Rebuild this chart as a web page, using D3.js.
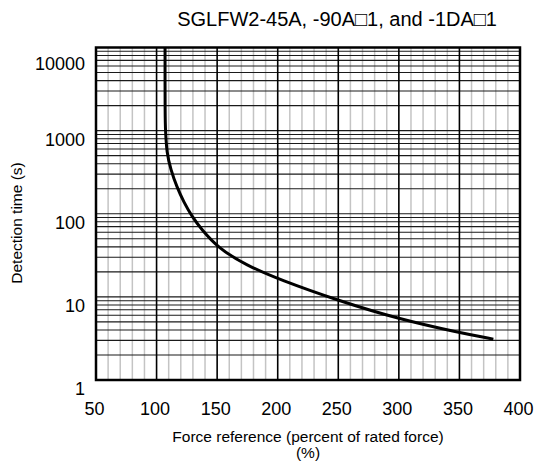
<!DOCTYPE html>
<html>
<head>
<meta charset="utf-8">
<script src="https://cdn.jsdelivr.net/npm/d3@7"></script>
<style>
  body { margin: 0; background: #fff; }
  svg text { font-family: "Liberation Sans", Arial, sans-serif; fill: #000; }
</style>
</head>
<body>
<div id="chart"></div>
<script>
// values
const force = [107, 107, 107.4, 108.4, 111.7, 116.6, 122.6, 129.2, 136.7, 151, 174, 202, 250, 300, 350, 378];
const detectTime = [10000, 1400, 1000, 540, 340, 212, 137, 93, 66, 38.5, 24, 16, 9.0, 5.4, 3.7, 3.1];
const xTicks = [50, 100, 150, 200, 250, 300, 350, 400];
const yTicks = [1, 10, 100, 1000, 10000];
const title = "SGLFW2-45A, -90A\u25A11, and -1DA\u25A11";

const svgWidth = 534, svgHeight = 463;
const margin = { top: 47.5, right: 14, bottom: 83, left: 96 };
const width = svgWidth - margin.left - margin.right;
const height = svgHeight - margin.top - margin.bottom;

const svg = d3.select("#chart").append("svg")
    .attr("width", svgWidth)
    .attr("height", svgHeight);

const g = svg.append("g")
    .attr("transform", "translate(" + margin.left + "," + margin.top + ")");

const x = d3.scaleLinear().domain([50, 400]).range([0, width]);
const y = d3.scaleLog().domain([1, 10000]).range([height, 0]);

// minor vertical grid, every 10 %
const minorX = d3.range(60, 400, 10).filter(v => v % 50 !== 0);
g.selectAll(".vminor").data(minorX).enter().append("line")
    .attr("x1", d => x(d)).attr("x2", d => x(d))
    .attr("y1", 0).attr("y2", height)
    .attr("stroke", "#c4c4c4").attr("stroke-width", 1.5);

// horizontal grid, 1..9 per decade
const hLines = [];
[1, 10, 100, 1000].forEach(dec => d3.range(1, 10).forEach(m => hLines.push(dec * m)));
g.selectAll(".hgrid").data(hLines.filter(v => v > 1)).enter().append("line")
    .attr("x1", 0).attr("x2", width)
    .attr("y1", d => y(d)).attr("y2", d => y(d))
    .attr("stroke", "#1a1a1a").attr("stroke-width", 1.1);

// major vertical grid
g.selectAll(".vmajor").data(xTicks.slice(1, -1)).enter().append("line")
    .attr("x1", d => x(d)).attr("x2", d => x(d))
    .attr("y1", 0).attr("y2", height)
    .attr("stroke", "#000").attr("stroke-width", 1.6);

// frame
g.append("rect")
    .attr("width", width).attr("height", height)
    .attr("fill", "none").attr("stroke", "#000").attr("stroke-width", 2.5);

// curve
const pts = force.map((f, i) => [f, detectTime[i]]);
const line = d3.line()
    .x(d => x(d[0]))
    .y(d => y(d[1]))
    .curve(d3.curveBasis);
g.append("path")
    .datum(pts)
    .attr("d", line)
    .attr("fill", "none")
    .attr("stroke", "#000")
    .attr("stroke-width", 3);

// axes (labels only)
const yAxis = g.append("g")
    .call(d3.axisLeft(y).tickValues(yTicks).tickFormat(d3.format("d")).tickSize(0).tickPadding(11));
yAxis.select(".domain").remove();
yAxis.selectAll("text")
    .style("font-size", "18px")
    .style("font-family", "'Liberation Sans', Arial, sans-serif")
    .attr("y", d => Math.max(9, 16 - y(d)));

const xAxis = g.append("g")
    .attr("transform", "translate(0," + height + ")")
    .call(d3.axisBottom(x).tickValues(xTicks).tickSize(0).tickPadding(22));
xAxis.select(".domain").remove();
xAxis.selectAll("text")
    .attr("x", -2)
    .style("font-size", "18px")
    .style("font-family", "'Liberation Sans', Arial, sans-serif");

// titles
svg.append("text")
    .attr("x", 497).attr("y", 26)
    .attr("text-anchor", "end")
    .style("font-size", "20px")
    .text(title);

svg.append("text")
    .attr("x", 308).attr("y", 442)
    .attr("text-anchor", "middle")
    .style("font-size", "15.5px")
    .text("Force reference (percent of rated force)");

svg.append("text")
    .attr("x", 308).attr("y", 458)
    .attr("text-anchor", "middle")
    .style("font-size", "15.5px")
    .text("(%)");

svg.append("text")
    .attr("transform", "translate(22,223) rotate(-90)")
    .attr("text-anchor", "middle")
    .style("font-size", "15.5px")
    .text("Detection time (s)");
</script>
</body>
</html>
